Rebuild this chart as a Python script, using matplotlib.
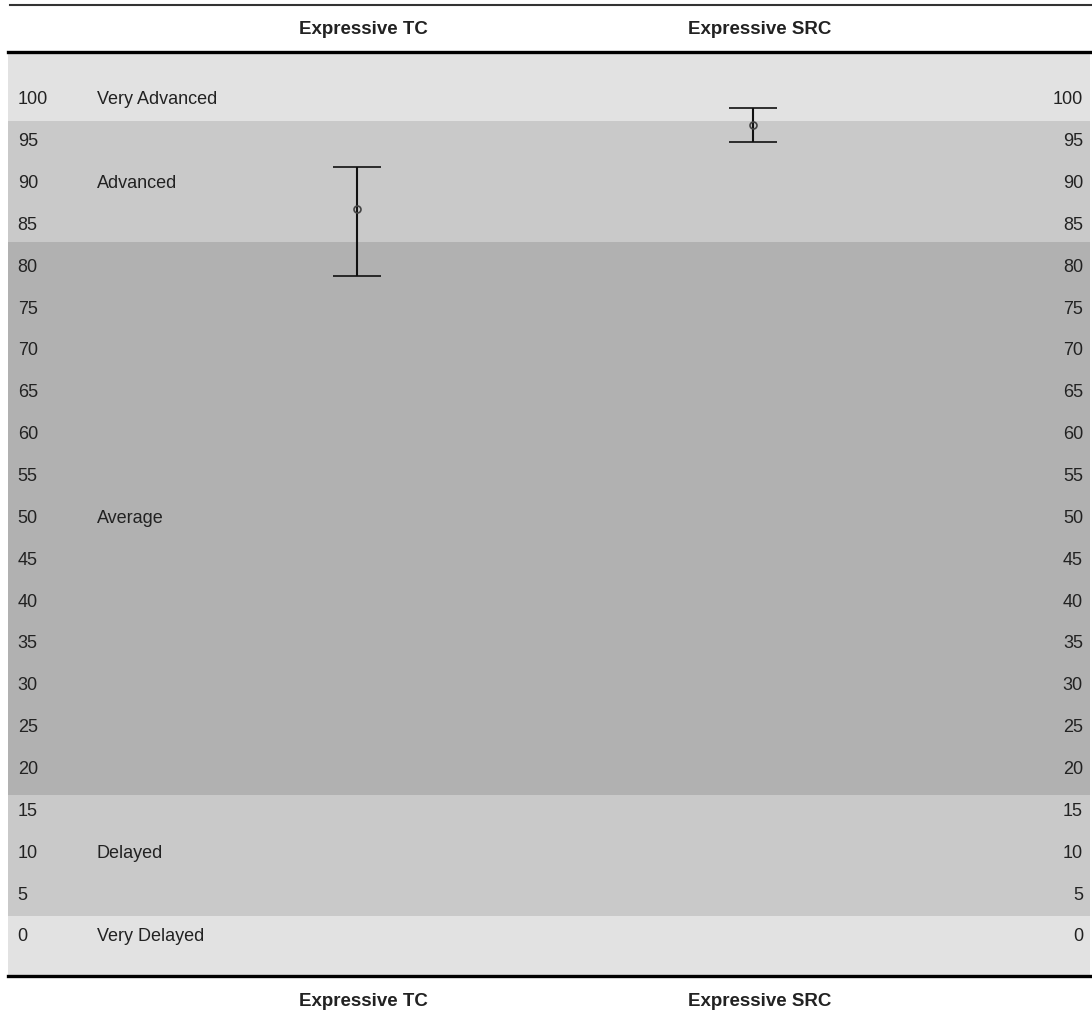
import matplotlib
matplotlib.use("Agg")
import matplotlib.pyplot as plt
from matplotlib.lines import Line2D
import matplotlib.transforms as mtransforms

# the two measures and their score ranges (mean with low / high end)
groups = ["Expressive TC", "Expressive SRC"]
means = [87, 97]
lows = [79, 95]
highs = [92, 99]

# percentile bands, from the bottom up
band_names = ["Very Delayed", "Delayed", "Average", "Advanced", "Very Advanced"]
band_edges = [2.5, 17, 83, 97.5]
band_label_at = [0, 10, 50, 90, 100]
band_colors = ["#e2e2e2", "#c9c9c9", "#b1b1b1", "#c9c9c9", "#e2e2e2"]

# scale labels down both sides
scale_ticks = list(range(0, 101, 5))

plt.rcParams["font.family"] = ["Liberation Sans", "DejaVu Sans"]

fig = plt.figure(figsize=(10.92, 10.18), dpi=100)
W, H = 1092, 1018

# axes box spans the shaded area (pixel coords)
left, right, top, bottom = 8, 1090, 52, 976
ax = fig.add_axes([left / W, 1 - bottom / H, (right - left) / W, (bottom - top) / H])

ymin, ymax = -4.66, 105.7
ax.set_ylim(ymin, ymax)
ax.set_xlim(0.119, 2.851)

# shaded bands
edges = [ymin] + band_edges + [ymax]
for i in range(len(band_names)):
    ax.axhspan(edges[i], edges[i + 1], color=band_colors[i], lw=0, zorder=0)

# band names and scale numbers as text inside the box
blend = mtransforms.blended_transform_factory(ax.transAxes, ax.transData)
for name, v in zip(band_names, band_label_at):
    ax.text(0.082, v, name, transform=blend, ha="left", va="center",
            fontsize=13, color="#222222")
for t in scale_ticks:
    ax.text(0.009, t, str(t), transform=blend, ha="left", va="center",
            fontsize=13, color="#222222")
    ax.text(0.9935, t, str(t), transform=blend, ha="right", va="center",
            fontsize=13, color="#222222")

# the error bars
xs = [1, 2]
yerr = [[m - lo for m, lo in zip(means, lows)], [hi - m for m, hi in zip(means, highs)]]
ax.errorbar(xs, means, yerr=yerr, fmt="o", ms=5, mfc="none", mec="#444444", mew=1.2,
            ecolor="#111111", elinewidth=1.5, capsize=17, capthick=1.5, zorder=3)

ax.set_xticks([])
ax.set_yticks([])
ax.spines["left"].set_visible(False)
ax.spines["right"].set_visible(False)
ax.spines["top"].set_linewidth(2.4)
ax.spines["bottom"].set_linewidth(2.4)

# thin rule at the very top
fig.add_artist(Line2D([10 / W, 1.0], [1 - 5 / H, 1 - 5 / H], color="#333333", lw=1.5))

# group labels above and below the box, lined up with the bars
for x, g in zip(xs, groups):
    xf = ax.transData.transform((x, 0))[0] / (fig.dpi * fig.get_figwidth())
    fig.text(xf + 0.006, 1 - 29 / H, g, ha="center", va="center", fontsize=13.5,
             fontweight="bold", color="#222222")
    fig.text(xf + 0.006, 1 - 1001 / H, g, ha="center", va="center", fontsize=13.5,
             fontweight="bold", color="#222222")

fig.savefig("out.png", dpi=100)
